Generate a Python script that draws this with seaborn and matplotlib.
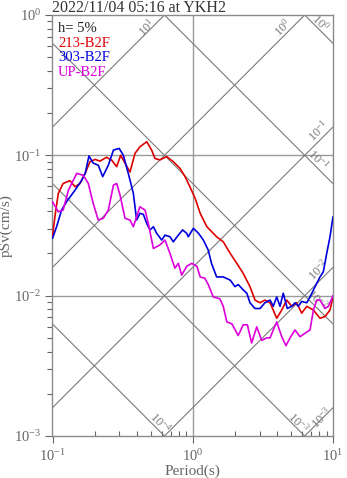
import numpy as np
import pandas as pd
import matplotlib
matplotlib.use("Agg")
import matplotlib.pyplot as plt
import matplotlib.ticker as mticker
import seaborn as sns

# ---- data (period [s], pSv [cm/s]) ----
t_213 = [0.100, 0.104, 0.110, 0.119, 0.133, 0.145, 0.157, 0.171, 0.185, 0.201,
         0.218, 0.243, 0.264, 0.287, 0.306, 0.329, 0.357, 0.387, 0.420, 0.470,
         0.509, 0.538, 0.584, 0.651, 0.727, 0.811, 0.881, 0.955, 1.04, 1.13,
         1.26, 1.48, 1.65, 1.85, 2.06, 2.29, 2.56, 2.78, 3.02, 3.27,
         3.56, 3.97, 4.31, 4.68, 5.08, 5.51, 5.98, 6.50, 7.25, 8.08,
         8.77, 9.52, 10.0]
sv_213 = [0.0263, 0.0365, 0.0536, 0.063, 0.066, 0.0597, 0.063, 0.0744, 0.090, 0.0935,
          0.091, 0.0968, 0.0925, 0.083, 0.100, 0.088, 0.076, 0.103, 0.115, 0.125,
          0.109, 0.095, 0.0927, 0.098, 0.090, 0.0807, 0.0705, 0.0597, 0.0493, 0.0386,
          0.031, 0.0263, 0.0242, 0.020, 0.017, 0.0144, 0.0116, 0.0093, 0.0089, 0.0093,
          0.0089, 0.0069, 0.0079, 0.0093, 0.0084, 0.0089, 0.0075, 0.0084, 0.0079, 0.0069,
          0.0071, 0.0079, 0.0098]

t_303 = [0.100, 0.107, 0.116, 0.126, 0.145, 0.161, 0.171, 0.182, 0.195, 0.212,
         0.228, 0.250, 0.272, 0.299, 0.320, 0.347, 0.377, 0.398, 0.420, 0.444,
         0.470, 0.496, 0.524, 0.553, 0.601, 0.634, 0.688, 0.727, 0.789, 0.847,
         0.906, 0.929, 1.01, 1.10, 1.19, 1.29, 1.36, 1.48, 1.65, 1.85,
         2.00, 2.11, 2.29, 2.43, 2.56, 2.78, 3.02, 3.27, 3.56, 3.75,
         3.97, 4.19, 4.42, 4.72, 5.08, 5.36, 5.66, 5.98, 6.50, 6.86,
         7.45, 8.08, 8.53, 9.02, 9.52, 10.0]
sv_303 = [0.0256, 0.031, 0.0407, 0.0467, 0.0566, 0.066, 0.0744, 0.099, 0.088, 0.085,
          0.0705, 0.085, 0.109, 0.112, 0.1, 0.0744, 0.0536, 0.0346, 0.0386, 0.038,
          0.0327, 0.0294, 0.031, 0.0278, 0.0249, 0.027, 0.0263, 0.0242, 0.027, 0.0294,
          0.0278, 0.0263, 0.0302, 0.0278, 0.0249, 0.0211, 0.017, 0.0136, 0.0136, 0.0129,
          0.0116, 0.012, 0.011, 0.0104, 0.0089, 0.0081, 0.0081, 0.0089, 0.0093, 0.0084,
          0.0098, 0.0084, 0.0104, 0.0081, 0.0084, 0.0089, 0.0084, 0.0091, 0.0089, 0.0098,
          0.0116, 0.0136, 0.0148, 0.020, 0.0263, 0.0365]

t_up = [0.100, 0.110, 0.119, 0.130, 0.137, 0.149, 0.166, 0.180, 0.195, 0.212,
        0.230, 0.250, 0.272, 0.287, 0.303, 0.329, 0.357, 0.377, 0.398, 0.420,
        0.457, 0.482, 0.524, 0.584, 0.634, 0.688, 0.746, 0.789, 0.834, 0.906,
        0.984, 1.07, 1.13, 1.22, 1.29, 1.40, 1.56, 1.65, 1.75, 1.90,
        2.11, 2.29, 2.45, 2.63, 2.86, 3.10, 3.37, 3.56, 3.75, 3.97,
        4.31, 4.62, 4.94, 5.36, 5.82, 6.32, 6.86, 7.25, 7.66, 8.08,
        8.77, 9.27, 10.0]
sv_up = [0.0467, 0.0396, 0.0407, 0.0566, 0.063, 0.0744, 0.072, 0.063, 0.0455, 0.0346,
         0.0356, 0.0407, 0.0613, 0.063, 0.0521, 0.0356, 0.0346, 0.031, 0.0365, 0.043,
         0.0407, 0.0327, 0.0217, 0.023, 0.0249, 0.020, 0.0157, 0.017, 0.014, 0.0162,
         0.017, 0.0162, 0.0136, 0.0133, 0.012, 0.0098, 0.0095, 0.0084, 0.0065, 0.0063,
         0.0052, 0.0062, 0.0062, 0.0046, 0.0060, 0.0048, 0.0050, 0.0050, 0.0057, 0.0065,
         0.0051, 0.0044, 0.0050, 0.0057, 0.0051, 0.0054, 0.0057, 0.0079, 0.0093, 0.0093,
         0.0081, 0.0084, 0.0100]

series_names = ["213-B2F", "303-B2F", "UP-B2F"]
series_colors = ["#dd0000", "#0000dd", "#dd00dd"]
title_text = "2022/11/04 05:16 at YKH2"
damping_text = "h= 5%"
accel_levels = [1e-3, 1e-2, 1e-1, 1e0, 1e1]   # pSa lines
disp_levels = [1e-4, 1e-3, 1e-2, 1e-1, 1e0]   # Sd lines

# ---- style ----
sns.set_theme(style="white")
plt.rcParams["font.family"] = ["Liberation Serif", "DejaVu Serif"]
plt.rcParams["mathtext.fontset"] = "custom"
plt.rcParams["mathtext.rm"] = "Liberation Serif"
plt.rcParams["mathtext.it"] = "Liberation Serif:italic"
plt.rcParams["mathtext.bf"] = "Liberation Serif:bold"

W, H = 347, 478
fig = plt.figure(figsize=(W / 100, H / 100), dpi=100)
L, R, T, B = 52.5, 333.0, 15.0, 436.0
ax = fig.add_axes([L / W, 1 - B / H, (R - L) / W, (B - T) / H])
ax.set_facecolor("white")

frames = []
for name, t, sv in [(series_names[0], t_213, sv_213),
                    (series_names[1], t_303, sv_303),
                    (series_names[2], t_up, sv_up)]:
    frames.append(pd.DataFrame({"period": t, "psv": sv, "series": name}))
df = pd.concat(frames, ignore_index=True)

ax.set_xscale("log")
ax.set_yscale("log")
ax.set_xlim(0.1, 10)
ax.set_ylim(1e-3, 1)

gray = "#7a7a7a"
# grid lines
ax.axvline(1.0, color="#9a9a9a", lw=1.0, zorder=1)
for yv in (1e-1, 1e-2):
    ax.axhline(yv, color="#9a9a9a", lw=1.0, zorder=1)

# tripartite diagonals
tt = np.array([0.1, 10.0])
for a in accel_levels:
    ax.plot(tt, a * tt / (2 * np.pi), color=gray, lw=0.8, zorder=1)
for d in disp_levels:
    ax.plot(tt, 2 * np.pi * d / tt, color=gray, lw=0.8, zorder=1)

sns.lineplot(data=df, x="period", y="psv", hue="series", hue_order=series_names,
             palette=series_colors, estimator=None, sort=False, legend=False,
             lw=1.2, ax=ax, zorder=3)

ax.set_xlim(0.1, 10)
ax.set_ylim(1e-3, 1)

# diagonal labels (axes-fraction positions)
lab_kw = dict(transform=ax.transAxes, fontsize=9, color=gray, ha="center",
              va="center", zorder=2)
diag_labels = [
    (0.337, 0.971, r"$10^{1}$", 45), (0.822, 0.971, r"$10^{0}$", 45),
    (0.954, 0.981, r"$10^{0}$", -45), (0.947, 0.724, r"$10^{-1}$", 45),
    (0.947, 0.656, r"$10^{-1}$", -45), (0.947, 0.394, r"$10^{-2}$", 45),
    (0.943, 0.323, r"$10^{-2}$", -45), (0.383, 0.031, r"$10^{-4}$", -45),
    (0.875, 0.033, r"$10^{-3}$", -45), (0.961, 0.043, r"$10^{-3}$", 45),
]
for x, y, s, rot in diag_labels:
    ax.text(x, y, s, rotation=rot, rotation_mode="anchor", **lab_kw)

# legend-like texts
ax.text(0.02, 0.967, damping_text, transform=ax.transAxes, fontsize=10.5,
        color="#222222", va="center", ha="left")
for i, (nm, c) in enumerate(zip(series_names, series_colors)):
    ax.text(0.02, 0.933 - i * 0.0345, nm, transform=ax.transAxes, fontsize=10.5,
            color=c, va="center", ha="left")

# frame and ticks
for sp in ax.spines.values():
    sp.set_color("#8a8a8a")
    sp.set_linewidth(1.0)
ax.xaxis.set_major_locator(mticker.LogLocator(base=10, numticks=10))
ax.yaxis.set_major_locator(mticker.LogLocator(base=10, numticks=10))
ax.xaxis.set_minor_locator(mticker.LogLocator(base=10, subs=np.arange(2, 10), numticks=20))
ax.yaxis.set_minor_locator(mticker.LogLocator(base=10, subs=np.arange(2, 10), numticks=20))
ax.xaxis.set_minor_formatter(mticker.NullFormatter())
ax.yaxis.set_minor_formatter(mticker.NullFormatter())
ax.tick_params(which="both", bottom=True, left=True, top=False, right=False,
               color="#666666", labelcolor="#666666", labelsize=10.5)
ax.tick_params(axis="x", which="major", direction="out", length=5, width=0.8, pad=4)
ax.tick_params(axis="x", which="minor", direction="in", length=3.5, width=0.8)
ax.tick_params(axis="y", which="major", direction="out", length=5, width=0.8, pad=3)
ax.tick_params(axis="y", which="minor", direction="out", length=3.5, width=0.8)
ax.grid(False)

ax.set_xlabel("Period(s)", fontsize=11, color="#666666", labelpad=0)
ax.set_ylabel("pSv(cm/s)", fontsize=11, color="#666666")
ax.yaxis.set_label_coords(-0.142, 0.5)

fig.text(L / W, 1 - 12 / H, title_text, fontsize=11.5, color="#333333",
         ha="left", va="baseline")

fig.savefig("out.png", dpi=100, facecolor="white")
